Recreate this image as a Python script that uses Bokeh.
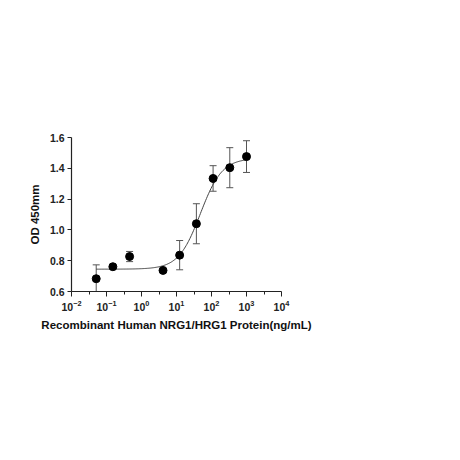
import numpy as np
from bokeh.plotting import figure
from bokeh.models import (ColumnDataSource, Whisker, TeeHead, FixedTicker,
                          LogTickFormatter, NumeralTickFormatter)
from bokeh.embed import file_html
from bokeh.resources import INLINE

# data
conc = [0.0508, 0.152, 0.457, 4.12, 12.3, 37.0, 111.0, 333.0, 1000.0]
od = [0.683, 0.761, 0.827, 0.737, 0.836, 1.040, 1.334, 1.404, 1.476]
sd = [0.090, 0.010, 0.033, 0.010, 0.095, 0.130, 0.083, 0.130, 0.103]

# 4PL fit parameters (estimated from the drawn curve)
fit_bottom, fit_top, fit_ec50, fit_hill = 0.745, 1.465, 48.0, 1.4

x_ticks = [1e-2, 1e-1, 1e0, 1e1, 1e2, 1e3, 1e4]
x_minor = [10 ** (k + 0.5) for k in range(-2, 4)]
y_ticks = [0.6, 0.8, 1.0, 1.2, 1.4, 1.6]

p = figure(width=444, height=444, x_axis_type="log",
           x_range=(1e-2, 1e4), y_range=(0.6, 1.6),
           output_backend="svg", toolbar_location=None,
           min_border_left=71, min_border_right=163,
           min_border_top=137, min_border_bottom=153)
p.outline_line_color = None
p.grid.visible = False
p.background_fill_color = "white"

xs = np.logspace(np.log10(conc[0]), np.log10(conc[-1]), 200)
ys = fit_bottom + (fit_top - fit_bottom) / (1 + (fit_ec50 / xs) ** fit_hill)
p.line(xs, ys, line_color="#444444", line_width=1)

src = ColumnDataSource(dict(x=conc, y=od,
                            upper=[a + b for a, b in zip(od, sd)],
                            lower=[a - b for a, b in zip(od, sd)]))
w = Whisker(source=src, base="x", upper="upper", lower="lower",
            line_color="#555555", line_width=1,
            upper_head=TeeHead(size=7, line_color="#555555", line_width=1),
            lower_head=TeeHead(size=7, line_color="#555555", line_width=1))
p.add_layout(w)
p.scatter("x", "y", source=src, size=8, color="black")

for ax in (p.xaxis[0], p.yaxis[0]):
    ax.axis_line_color = "#222222"
    ax.axis_line_width = 1.2
    ax.major_tick_line_color = "#222222"
    ax.minor_tick_line_color = "#222222"
    ax.major_tick_in = 0
    ax.minor_tick_in = 0
    ax.major_label_text_font = "Liberation Sans"
    ax.major_label_text_font_style = "bold"
    ax.major_label_text_color = "#222222"
    ax.axis_label_text_font = "Liberation Sans"
    ax.axis_label_text_font_style = "bold"
    ax.axis_label_text_font_size = "11.5px"
    ax.axis_label_text_color = "#111111"

p.xaxis.ticker = FixedTicker(ticks=x_ticks, minor_ticks=x_minor)
p.xaxis.formatter = LogTickFormatter()
p.xaxis.major_label_text_font_size = "10.5px"
p.xaxis.major_tick_out = 5
p.xaxis.minor_tick_out = 3
p.xaxis.axis_label = "Recombinant Human NRG1/HRG1 Protein(ng/mL)"
p.xaxis.axis_label_standoff = 5
p.xaxis.major_label_standoff = 3

p.yaxis.ticker = FixedTicker(ticks=y_ticks, minor_ticks=[])
p.yaxis.formatter = NumeralTickFormatter(format="0.0")
p.yaxis.major_label_text_font_size = "10.5px"
p.yaxis.major_tick_out = 4
p.yaxis.axis_label = "OD 450mm"
p.yaxis.axis_label_standoff = 6
p.yaxis.major_label_standoff = 3

open("out.html", "w").write(file_html(p, INLINE))
